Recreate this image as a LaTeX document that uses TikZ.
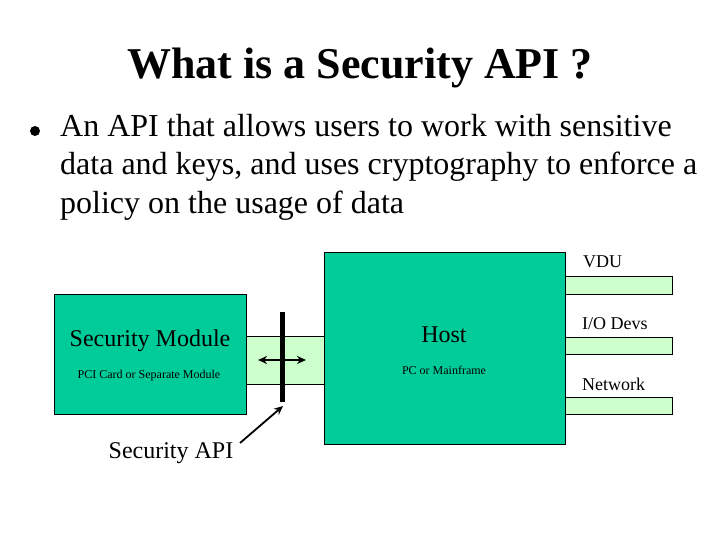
\documentclass[tikz,border=0pt]{standalone}
\usepackage{fontspec}
\setmainfont{Liberation Serif}
\usetikzlibrary{arrows.meta}
\definecolor{teal}{HTML}{00CC99}
\definecolor{pale}{HTML}{CCFFCC}
\tikzset{
  bigbox/.style={draw=black, fill=teal, line width=1pt, minimum width=#1, inner sep=0pt},
  lbl/.style={inner sep=0pt, anchor=center},
  tipk/.tip={Stealth[length=9pt,width=8pt]},
  arr/.style={line width=1.8pt, -tipk}
}
\begin{document}
\begin{tikzpicture}[x=1pt,y=-1pt]
\useasboundingbox (0,0) rectangle (720,540);
% title
\node[lbl] (title) at (360,68) {\fontsize{44}{50}\selectfont\bfseries What is a Security API ?};
% bullet
\fill (35,131) circle (5pt);
\node[lbl, anchor=north west, align=left, font=\fontsize{32}{38.4}\selectfont] (txt) at (60,114) {An API that allows users to work with sensitive\\data and keys, and uses cryptography to enforce a\\policy on the usage of data};
% right bars
\fill[pale] (565,276) rectangle (672,294);
\draw[line width=0.8pt] (565,276) -| (672,294) -- (565,294);
\fill[pale] (565,337) rectangle (672,354);
\draw[line width=0.8pt] (565,337) -| (672,354) -- (565,354);
\fill[pale] (565,397) rectangle (672,414);
\draw[line width=0.8pt] (565,397) -| (672,414) -- (565,414);
% band
\fill[pale] (247,336) rectangle (324,384);
\draw[line width=0.8pt] (247,336) -- (324,336) (247,384) -- (324,384);
% boxes
\node[bigbox=192pt, minimum height=120pt] (sm) at (150,354) {};
\node[bigbox=241pt, minimum height=192pt] (host) at (444.5,348) {};
% box texts
\node[lbl] (smt) at (150,341) {\fontsize{24}{28}\selectfont Security Module};
\node[lbl] (sms) at (149,376) {\fontsize{12}{14}\selectfont PCI Card or Separate Module};
\node[lbl] (ht) at (444,335) {\fontsize{24}{28}\selectfont Host};
\node[lbl] (hs) at (444,370) {\fontsize{12}{14}\selectfont PC or Mainframe};
% device labels
\node[lbl, anchor=west] (vdu) at (583,262) {\fontsize{18}{22}\selectfont VDU};
\node[lbl, anchor=west] (io) at (582,324) {\fontsize{18}{22}\selectfont I/O Devs};
\node[lbl, anchor=west] (net) at (582,384) {\fontsize{18}{22}\selectfont Network};
% API barrier
\coordinate (bt) at (282,312);
\coordinate (bb) at (282,402);
\draw[line width=5pt] (bt) -- (bb);
\coordinate (al) at (258,360);
\coordinate (ar) at (306,360);
\draw[line width=1.8pt, tipk-tipk] (al) -- (ar);
% Security API label
\node[lbl] (api) at (171,453) {\fontsize{24}{28}\selectfont Security API};
\coordinate (tip) at (283,406);
\draw[arr] (240,443) -- (tip);
\end{tikzpicture}
\end{document}
